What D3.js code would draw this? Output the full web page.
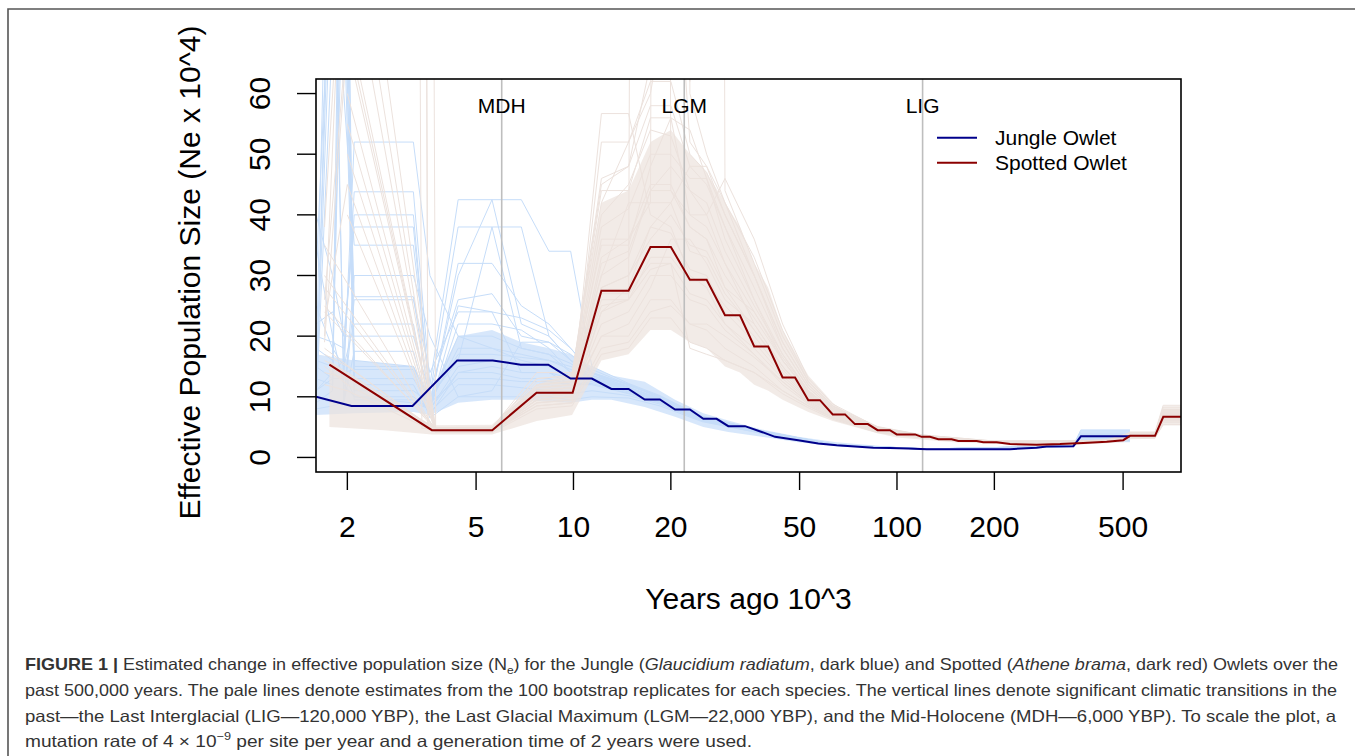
<!DOCTYPE html>
<html>
<head>
<meta charset="utf-8">
<script src="https://cdn.jsdelivr.net/npm/d3@7"></script>
<style>
	body { margin: 0; background: #fff; }
	svg { display: block; font-family: "Liberation Sans", Arial, sans-serif; }
</style>
</head>
<body>
<svg id="chart" width="1355" height="756"></svg>
<script>
"use strict";

// years ago (x 10^3) and Ne (x 10^4)

var jungleTime = [1.60, 2.06, 3.18, 4.37, 5.63, 6.87, 8.36, 9.8, 11.4, 13.1, 14.8, 16.6, 18.5, 20.6, 22.9, 25.2, 27.7, 30.1, 33.9, 38.2,
	42.0, 49.5, 57.1, 65.1, 84.5, 95.1, 108.4, 123.6, 223.6, 270, 290, 351, 370.5, 525];
var jungleNe = [10.0, 8.5, 8.5, 16.0, 16.0, 15.3, 15.3, 13.0, 13.0, 11.3, 11.3, 9.56, 9.56, 7.9, 7.9, 6.36, 6.36, 5.16, 5.16, 4.2,
	3.4, 2.85, 2.3, 2.0, 1.6, 1.55, 1.48, 1.37, 1.37, 1.6, 1.8, 1.86, 3.5, 3.5];

var spottedTime = [1.76, 3.65, 5.61, 7.69, 9.94, 12.2, 14.8, 17.3, 20.0, 22.9, 25.8, 29.4, 32.7, 36.2, 40.0, 44.3, 48.4, 53.2, 57.8, 63.3,
	69.1, 74.1, 81.3, 87.1, 95.1, 99.8, 113.7, 119.2, 126.5, 134.2, 147.6, 154.7, 176.4, 184.8, 203.3, 223.6, 270, 319, 376.7, 444.8,
	500.6, 525, 627.5, 665.5, 755];
var spottedNe = [15.3, 4.5, 4.5, 10.65, 10.65, 27.5, 27.5, 34.7, 34.7, 29.3, 29.3, 23.45, 23.45, 18.3, 18.3, 13.2, 13.2, 9.45, 9.45, 7.1,
	7.1, 5.5, 5.5, 4.5, 4.5, 3.8, 3.8, 3.4, 3.4, 3.0, 3.0, 2.7, 2.7, 2.5, 2.5, 2.2, 2.1, 2.2, 2.4, 2.6,
	2.85, 3.56, 3.56, 6.7, 6.7];

// dense part of the bootstrap clouds
var jungleBandTime = [1.6, 2.1, 3.2, 3.6, 4.4, 5.6, 6.9, 8.4, 9.8, 11.4, 13.1, 16.6, 20.6, 25.2, 30.1, 38.2, 49.5, 65, 95, 124, 224, 351, 370, 525];
var jungleBandLow = [7, 7.3, 7.5, 7, 9, 9.5, 9.5, 9.2, 9, 9.5, 9.5, 8.3, 6.7, 5, 4.2, 3.4, 2.5, 1.9, 1.45, 1.3, 1.3, 1.75, 2.7, 2.7];
var jungleBandHigh = [17, 16, 15, 10.5, 20, 21, 19, 18, 17, 15, 13.5, 12.5, 9.5, 7.3, 6.1, 4.6, 3.4, 2.5, 1.75, 1.5, 1.5, 2.0, 4.6, 4.6];

var spottedBandTime = [1.76, 2.6, 3.65, 5.6, 7.7, 9.9, 12.2, 14.8, 17.3, 20, 22.9, 25.8, 29.4, 32.7, 36.2, 40, 44.3, 53.2, 63.3, 74,
	87, 100, 150, 300, 500, 525, 627, 665, 755];
var spottedBandLow = [5, 4.5, 3.8, 3.8, 6, 7, 16, 17, 21, 21, 19, 18, 15, 14, 12, 11, 9.5, 7.5, 6, 5,
	4, 3.3, 2.5, 1.9, 2.5, 3, 3.1, 5.3, 5.3];
var spottedBandHigh = [16, 10, 5.3, 5.4, 12, 14, 42, 44, 52, 54, 50, 47, 42, 38, 32, 28, 21, 13.5, 9, 6.3,
	5.1, 4.2, 3.0, 2.4, 3.3, 4.3, 4.3, 8.4, 8.4];

// individual bootstrap replicates (null = no vertex at that time)
var jungleBootTime = [1.6, 1.8, 1.95, 2.1, 3.2, 3.6, 4.4, 5.6, 6.9, 8.4, 9.8, 11.4, 14.8, 18.5, 25, 38, 65, 124, 350, 370, 525];
var jungleBoot = [
	[12, 95, 14, 10, 9, 8, 14, 15, 14, 14, 12, 12.5, 10.8, 9.2, 6.2, 4.1, 2.0, 1.4, 1.9, 3.6, 3.6],
	[9, 11, 120, 16, 15, 9, 20, 20, 18, 17, 14, 13.5, 11.8, 10, 6.8, 4.4, 2.1, 1.4, 1.8, 3.3, 3.3],
	[15, 13, 13, 52, 52, 30, 20, 18, 16, 15, 13, 12.8, 11, 9.3, 6.3, 4.2, 2.0, 1.35, 1.85, 3.7, 3.7],
	[11, 14, 16, 43.8, 43.8, 12, 42.5, 42.5, 22, 20, 16, 13, 11.5, 9.8, 6.5, 4.3, 2.05, 1.4, 1.9, 3.4, 3.4],
	[40, 30, 20, 38, 38, 10, 16, 38, 38, 20, 16, 14.5, 12, 10, 6.6, 4.3, 2.1, 1.4, 1.8, 3.8, 3.8],
	[8, 70, 80, 26.5, 26.5, 9, 30, 42.5, 42.5, 34, 34, 15, 12.2, 10.2, 6.7, 4.4, 2.1, 1.38, 1.9, 3.5, 3.5],
	[25, 18, 15, 22, 22, 8, 25, 24, 23, 21, 18, 14, 11, 9.5, 6.4, 4.2, 2.0, 1.37, 1.85, 3.2, 3.2],
	[7, 110, 9, 17.5, 17.5, 7.5, 12, 12, 11.5, 11, 10.5, 11, 10.2, 8.8, 6, 4.0, 1.95, 1.35, 1.8, 3.0, 3.0],
	[18, 16, 85, 13, 13, 8.5, 32, 32, 25, 22, 18, 14, 11.5, 9.7, 6.5, 4.3, 2.0, 1.4, 1.9, 4.2, 4.2],
	[10, 9, 9, 30, 30, 20, 10, 10, 10, 10, 9.5, 10, 9.8, 8.5, 5.9, 4.0, 1.95, 1.35, 1.85, 2.8, 2.8],
	[30, 90, 60, 35, 35, 11, 26, 27, 20, 19, 17, 14, 12, 9.9, 6.6, 4.3, 2.1, 1.4, 1.9, 3.9, 3.9],
	[13, 12, 100, 15, 15, 9.5, 17, 17, 16.5, 16, 15, 13.8, 12, 10, 6.7, 4.4, 2.05, 1.4, 1.85, 3.5, 3.5],
	[22, 24, 20, 20, 20, 10.5, 38, 38, 18, 17, 15.5, 13, 11.2, 9.5, 6.3, 4.2, 2.0, 1.37, 1.8, 3.6, 3.6],
	[9, 85, 75, 12, 12, 7, 14, 14, 13, 13, 12, 12, 10.5, 9, 6.1, 4.1, 1.98, 1.36, 1.85, 4.5, 4.5],
	[35, 20, 12, 10, 10, 8, 22, 22, 21, 18, 14, 13.2, 11.6, 9.6, 6.4, 4.2, 2.02, 1.38, 1.9, 2.6, 2.6],
	[16, 15, 14, 14.5, 14.5, 6.5, 10, 11, 19, 19, 16, 14, 12, 10, 6.6, 4.35, 2.05, 1.4, 1.9, 3.3, 3.3],
	[14, 130, 110, 11, 11, 9, 18, 18, 17, 16, 14.5, 13.5, 11.5, 9.6, 6.4, 4.2, 2.0, 1.38, 1.85, 3.4, 3.4],
	[11, 13, 140, 9.5, 9.5, 8, 15, 16, 15.5, 15, 13.5, 13, 11.3, 9.4, 6.3, 4.2, 2.0, 1.37, 1.85, 3.7, 3.7],
	[20, 19, 18, 40, 40, 9, 13, 13, 12.5, 12.5, 12, 12.2, 10.6, 9.1, 6.1, 4.1, 1.98, 1.36, 1.85, 3.5, 3.5],
	[8, 8.5, 9, 26, 26, 14, 24, 24, 14, 14, 13, 12.8, 11, 9.4, 6.3, 4.2, 2.0, 1.37, 1.8, 3.6, 3.6]
];

var spottedBootTime = [1.7, 2.0, 2.6, 3.2, 3.4, 3.55, 3.75, 5.6, 7.7, 9.9, 12.2, 14.8, 17.3, 20, 22.9, 25.8, 29.4, 36.2, 44.3, 53.2,
	63.3, 87, 120, 200, 445, 525, 627, 665, 755];
var spottedBoot = [
	[90, null, null, null, null, null, 4.4, 4.3, 9.5, 10, 22, 24, 30, 30, 26, 25, 21, 17, 12.5, 9, 6.8, 4.4, 3.4, 2.5, 2.5, 3.4, 3.4, 6.4, 6.4],
	[null, 68, null, null, null, null, 4.6, 4.6, 11, 11.5, 33, 36, 45, 45, 38, 36, 28, 21, 15, 10.2, 7.4, 4.7, 3.5, 2.6, 2.7, 3.7, 3.7, 7.3, 7.3],
	[30, null, null, null, null, null, 4.5, 4.4, 8.5, 9, 18, 19, 24, 25, 22, 21, 18, 15, 11, 8.5, 6.5, 4.2, 3.3, 2.4, 2.5, 3.3, 3.3, 5.8, 5.8],
	[38, null, 200, 300, 4.8, null, 4.7, 4.6, 12, 12.5, 40, 45, 54, 53, 44, 42, 34, 25, 17, 11, 7.8, 4.8, 3.6, 2.6, 2.7, 3.8, 3.8, 7.9, 7.9],
	[26, null, null, 200, 300, 4.7, 4.6, 4.5, 10, 10.5, 28, 30, 38, 37, 31, 30, 24, 19, 13.5, 9.6, 7.2, 4.5, 3.4, 2.5, 2.6, 3.5, 3.5, 6.8, 6.8],
	[20, null, 250, null, null, 300, 4.5, 4.4, 9, 9.5, 24, 26, 31, 32, 27, 26, 22, 18, 13, 9.4, 7, 4.4, 3.35, 2.45, 2.55, 3.45, 3.45, 6.2, 6.2],
	[22, 45, null, null, null, null, 4.3, 4.2, 9, 9.5, 56.7, 56.7, 40, 38, 30, 28, 22, 17, 12, 8.8, 6.6, 4.3, 3.3, 2.45, 2.5, 3.4, 3.4, 6.1, 6.1],
	[null, 70, null, null, null, null, 4.6, 4.7, 13, 13.5, 45, 48, 65, 100, 52, 48, 40, 30, 19, 12, 8.2, 5, 3.7, 2.7, 2.8, 3.9, 3.9, 8.3, 8.3],
	[17, 15, null, null, null, null, 4.5, 4.5, 11.5, 12, 38, 41, 50, 50, 46, 46, 38, 26, 17, 11, 7.7, 4.7, 3.5, 2.55, 2.65, 3.6, 3.6, 7, 7],
	[12, 11, null, null, null, null, 4.2, 4.1, 8, 8.5, 17, 18, 23, 23, 19, 18, 16, 14, 10.5, 8.2, 6.3, 4.1, 3.2, 2.4, 2.45, 3.2, 3.2, 5.4, 5.4],
	[null, 110, null, null, null, null, 4.8, 4.9, 14, 14, 42, 52, 60, 80, 62, 1000, 44, 32, 20, 12.5, 8.5, 5.1, 3.7, 2.7, 2.85, 4.1, 4.1, 8.6, 8.6],
	[35, null, null, null, null, null, 4.4, 4.4, 10.5, 11, 25, 26, 33, 33, 29, 29, 25, 20, 14, 9.8, 7.3, 4.6, 3.45, 2.5, 2.6, 3.55, 3.55, 6.7, 6.7],
	[16, 14, null, null, null, null, 4.7, 4.8, 12, 12.5, 35, 35, 48, 56, 54, 46, 36, 26, 16, 10.8, 7.6, 4.8, 3.55, 2.6, 2.7, 3.7, 3.7, 7.5, 7.5],
	[19, null, 150, null, 300, 4.6, 4.6, 4.5, 9.5, 10, 20, 22, 28, 36, 36, 32, 26, 22, 15, 10.5, 7.4, 4.5, 3.4, 2.5, 2.55, 3.5, 3.5, 6.3, 6.3],
	[null, 50, null, null, null, null, 4.5, 4.5, 11, 11, 30, 33, 44, 44, 40, 40, 46, 36, 22, 13, 8.8, 5, 3.6, 2.6, 2.7, 3.8, 3.8, 7.7, 7.7],
	[14, 13, null, null, null, null, 4.3, 4.3, 9.5, 10, 24, 28, 38, 42, 34, 33, 27, 21, 14.5, 10, 7.3, 4.6, 3.45, 2.5, 2.6, 3.5, 3.5, 6.6, 6.6],
	[24, null, null, null, null, null, 4.9, 5, 13, 13.5, 46, 48, 58, 58, 48, 45, 38, 28, 18, 11.5, 8, 4.9, 3.6, 2.65, 2.75, 3.85, 3.85, 7.6, 7.6],
	[null, 85, null, null, null, null, 4.4, 4.4, 10, 10.5, 27, 27, 32, 32, 18, 17, 16, 14, 11, 8.5, 6.6, 4.3, 3.3, 2.45, 2.5, 3.3, 3.3, 6, 6],
	[28, null, null, null, null, null, 4.6, 4.6, 12, 12.5, 30, 42, 42, 1000, 60, 50, 42, 30, 19, 12, 8.1, 4.9, 3.6, 2.6, 2.7, 3.7, 3.7, 7.2, 7.2],
	[null, 55, null, null, null, null, 4.5, 4.5, 10, 10.5, 26, 26, 1000, 44, 38, 36, 30, 23, 16, 10.8, 7.6, 4.7, 3.5, 2.55, 2.6, 3.6, 3.6, 7, 7],
	[18, null, null, null, null, null, 4.2, 4.2, 8.5, 9, 52, 52, 62, 62, 50, 47, 40, 30, 18, 11.5, 8, 4.8, 3.5, 2.6, 2.7, 3.6, 3.6, 7.4, 7.4],
	[null, 40, null, null, null, null, 4.6, 4.6, 11, 11.5, 36, 36, 42, 42, 48, 48, 42, 33, 21, 12.5, 8.4, 4.9, 3.6, 2.6, 2.7, 3.8, 3.8, 7.8, 7.8],
	[25, null, null, null, null, null, 4.5, 4.5, 10, 10.5, 20, 20, 26, 26, 22, 22, 20, 16.5, 12.5, 9.2, 7, 4.4, 3.35, 2.45, 2.55, 3.4, 3.4, 6.4, 6.4],
	[null, 60, null, null, null, null, 4.7, 4.7, 12.5, 13, 44, 44, 56, 56, 40, 38, 32, 24, 16, 10.6, 7.5, 4.7, 3.5, 2.55, 2.65, 3.6, 3.6, 7.1, 7.1],
	[15, 12, null, null, null, null, 4.4, 4.4, 9.5, 10, 32, 34, 44, 48, 44, 40, 32, 22, 15, 10.3, 7.4, 4.6, 3.45, 2.5, 2.6, 3.5, 3.5, 6.9, 6.9],
	[null, 95, null, null, null, null, 4.5, 4.6, 11.5, 12, 28, 30, 36, 40, 35, 34, 28, 24, 16.5, 11, 7.7, 4.7, 3.5, 2.55, 2.65, 3.65, 3.65, 7.2, 7.2]
];

var eventNames = ["MDH", "LGM", "LIG"];
var eventYears = [6, 22, 120];

var xTicks = [2, 5, 10, 20, 50, 100, 200, 500];
var yTicks = [0, 10, 20, 30, 40, 50, 60];

var legendLabels = ["Jungle Owlet", "Spotted Owlet"];

var colJungle = "#00008b";
var colSpotted = "#8b0000";
var paleJungle = "#c6ddf9";
var paleSpotted = "#ece2dd";

var plotLeft = 316, plotRight = 1181, plotTop = 79, plotBottom = 472;

var svg = d3.select("#chart");

var x = d3.scaleLog().domain([1.6, 755]).range([plotLeft, plotRight]);
var y = d3.scaleLinear().domain([-2.4, 62.4]).range([plotBottom, plotTop]);

function pairs(times, values) {
	return times.map(function(t, i) { return [t, values[i]]; })
		.filter(function(p) { return p[1] !== null; });
}

var line = d3.line()
	.x(function(d) { return x(d[0]); })
	.y(function(d) { return y(d[1]); });

function band(times, low, high) {
	return d3.area()
		.x(function(d, i) { return x(times[i]); })
		.y0(function(d, i) { return y(low[i]); })
		.y1(function(d, i) { return y(high[i]); })(times);
}

// figure frame
svg.append("path")
	.attr("d", "M8,756 L8,9 L1355,9")
	.style("fill", "none")
	.style("stroke", "#555")
	.style("stroke-width", 1.6);

svg.append("clipPath").attr("id", "plotClip")
	.append("rect")
	.attr("x", plotLeft).attr("y", plotTop)
	.attr("width", plotRight - plotLeft).attr("height", plotBottom - plotTop);

var plot = svg.append("g").attr("clip-path", "url(#plotClip)");

function drawCloud(bandT, bandLo, bandHi, bootT, boots, colour) {
	plot.append("path")
		.attr("d", band(bandT, bandLo, bandHi))
		.style("fill", colour)
		.style("fill-opacity", 0.7);

	boots.forEach(function(rep) {
		plot.append("path")
			.attr("d", line(pairs(bootT, rep)))
			.style("fill", "none")
			.style("stroke", colour)
			.style("stroke-width", 1);
	});
}

// bootstrap clouds
drawCloud(jungleBandTime, jungleBandLow, jungleBandHigh, jungleBootTime, jungleBoot, paleJungle);
drawCloud(spottedBandTime, spottedBandLow, spottedBandHigh, spottedBootTime, spottedBoot, paleSpotted);

// climatic transitions
eventYears.forEach(function(yr, i) {
	plot.append("line")
		.attr("x1", x(yr)).attr("x2", x(yr))
		.attr("y1", plotTop).attr("y2", plotBottom)
		.style("stroke", "#bebebe")
		.style("stroke-width", 1.6);

	svg.append("text")
		.attr("x", x(yr))
		.attr("y", 113)
		.style("font-size", "21px")
		.style("text-anchor", "middle")
		.style("fill", "#000")
		.text(eventNames[i]);
});

// main estimates
plot.append("path")
	.attr("d", line(pairs(jungleTime, jungleNe)))
	.style("fill", "none")
	.style("stroke", colJungle)
	.style("stroke-width", 2);

plot.append("path")
	.attr("d", line(pairs(spottedTime, spottedNe)))
	.style("fill", "none")
	.style("stroke", colSpotted)
	.style("stroke-width", 2);

// box
svg.append("rect")
	.attr("x", plotLeft).attr("y", plotTop)
	.attr("width", plotRight - plotLeft).attr("height", plotBottom - plotTop)
	.style("fill", "none")
	.style("stroke", "#000")
	.style("stroke-width", 1.6);

// x axis
xTicks.forEach(function(v) {
	svg.append("line")
		.attr("x1", x(v)).attr("x2", x(v))
		.attr("y1", plotBottom).attr("y2", plotBottom + 18)
		.style("stroke", "#000")
		.style("stroke-width", 1.4);
	svg.append("text")
		.attr("x", x(v))
		.attr("y", 537)
		.style("font-size", "30px")
		.style("text-anchor", "middle")
		.text(v);
});

// y axis
yTicks.forEach(function(v) {
	svg.append("line")
		.attr("x1", plotLeft - 19).attr("x2", plotLeft)
		.attr("y1", y(v)).attr("y2", y(v))
		.style("stroke", "#000")
		.style("stroke-width", 1.4);
	svg.append("text")
		.attr("x", 270)
		.attr("y", y(v))
		.attr("transform", "rotate(-90," + 270 + "," + y(v) + ")")
		.style("font-size", "30px")
		.style("text-anchor", "middle")
		.text(v);
});

svg.append("text")
	.attr("x", (plotLeft + plotRight) / 2)
	.attr("y", 609)
	.style("font-size", "30px")
	.style("text-anchor", "middle")
	.text("Years ago 10^3");

var yMid = (plotTop + plotBottom) / 2 - 3;
svg.append("text")
	.attr("x", 200)
	.attr("y", yMid)
	.attr("transform", "rotate(-90,200," + yMid + ")")
	.style("font-size", "30px")
	.style("text-anchor", "middle")
	.text("Effective Population Size (Ne x 10^4)");

// legend
[colJungle, colSpotted].forEach(function(c, i) {
	var ly = 137.7 + i * 25;
	svg.append("line")
		.attr("x1", 937).attr("x2", 977)
		.attr("y1", ly).attr("y2", ly)
		.style("stroke", c)
		.style("stroke-width", 2);
	svg.append("text")
		.attr("x", 995)
		.attr("y", ly + 7.5)
		.style("font-size", "21px")
		.text(legendLabels[i]);
});

// caption
var capColor = "#333";
var capSize = "16.5px";

function capLine(yPos, width) {
	var t = svg.append("text")
		.attr("x", 25)
		.attr("y", yPos)
		.style("font-size", capSize)
		.style("fill", capColor);
	if (width) {
		t.attr("textLength", width).attr("lengthAdjust", "spacingAndGlyphs");
	}
	return t;
}

var c1 = capLine(670, 1313);
c1.append("tspan").style("font-weight", "bold").text("FIGURE 1 | ");
c1.append("tspan").text("Estimated change in effective population size (N");
c1.append("tspan").attr("dy", 4).style("font-size", "11px").text("e");
c1.append("tspan").attr("dy", -4).text(") for the Jungle (");
c1.append("tspan").style("font-style", "italic").text("Glaucidium radiatum");
c1.append("tspan").text(", dark blue) and Spotted (");
c1.append("tspan").style("font-style", "italic").text("Athene brama");
c1.append("tspan").text(", dark red) Owlets over the");

capLine(696, 1312).text("past 500,000 years. The pale lines denote estimates from the 100 bootstrap replicates for each species. The vertical lines denote significant climatic transitions in the");

capLine(722, 1311).text("past\u2014the Last Interglacial (LIG\u2014120,000 YBP), the Last Glacial Maximum (LGM\u201422,000 YBP), and the Mid-Holocene (MDH\u20146,000 YBP). To scale the plot, a");

var c4 = capLine(747, 727);
c4.append("tspan").text("mutation rate of 4 \u00d7 10");
c4.append("tspan").attr("dy", -7).style("font-size", "11px").text("\u22129");
c4.append("tspan").attr("dy", 7).text(" per site per year and a generation time of 2 years were used.");
</script>
</body>
</html>
